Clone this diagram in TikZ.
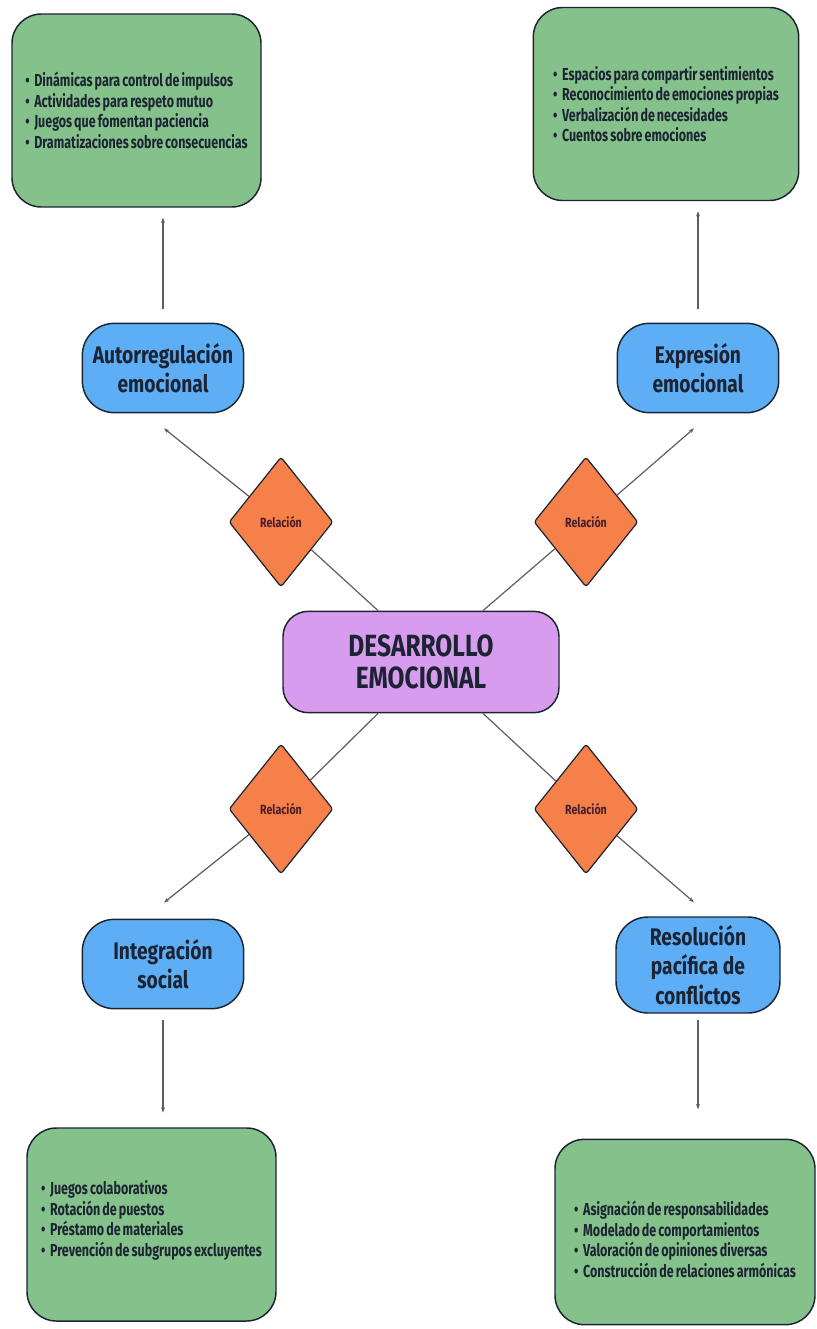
\documentclass[tikz,border=0pt]{standalone}
\usepackage{fontspec}
\setmainfont{Fira Sans}[FakeStretch=0.8]
\newfontfamily\listafont{Fira Sans}[FakeStretch=0.72, WordSpace=0.7]
\usepackage{tikz}
\usetikzlibrary{positioning,calc,arrows.meta,shapes.geometric}

\definecolor{verde}{HTML}{85C18B}
\definecolor{azul}{HTML}{5DAEF4}
\definecolor{lila}{HTML}{D89CEF}
\definecolor{naranja}{HTML}{F5804A}
\definecolor{borde}{HTML}{1C2433}
\definecolor{gris}{HTML}{5E5E5E}

\newcommand\punto{\textbullet\hspace{3.5pt}}

\begin{document}
\begin{tikzpicture}[x=0.75pt,y=-0.75pt,
		lista/.style={draw=borde, line width=1.1pt, fill=verde, rounded corners=22pt, minimum height=144.75pt, align=left, text=borde, font=\listafont\bfseries\fontsize{13}{15.4}\selectfont},
		eje/.style={draw=borde, line width=1.1pt, fill=azul, rounded corners=24pt, minimum width=121pt, minimum height=67pt, align=center, text=borde, font=\bfseries\fontsize{18}{22}\selectfont},
		rel/.style={diamond, draw=borde, line width=0.9pt, fill=naranja, rounded corners=2pt, minimum width=78pt, minimum height=97.5pt, inner sep=0pt, text=borde!80!red, font=\bfseries\fontsize{10}{11}\selectfont},
		linea/.style={draw=gris, line width=0.9pt},
		flecha/.style={linea, -{Stealth[length=4pt, width=3pt]}}]
		\useasboundingbox (0,0) rectangle (817,1329);
		% centro
		\node[draw=borde, line width=1.1pt, fill=lila, rounded corners=19pt, minimum width=207pt, minimum height=76pt, align=center, text=borde, font=\bfseries\fontsize{23}{24}\selectfont] (centro) at (421,662) {DESARROLLO\\EMOCIONAL};
		% ejes
		\node[eje] (auto) at (163,368) {Autorregulación\\emocional};
		\node[eje] (expr) at (698,368) {Expresión\\emocional};
		\node[eje] (integ) at (163,964) {Integración\\social};
		\node[eje, minimum width=123pt, minimum height=72pt] (resol) at (698,965) {Resolución\\pacífica de\\conflictos};
		% relaciones
		\node[rel] (rel1) at (281,522) {Relación};
		\node[rel] (rel2) at (586,522) {Relación};
		\node[rel] (rel3) at (281,809) {Relación};
		\node[rel] (rel4) at (586,809) {Relación};
		% actividades
		\node[lista, minimum width=186.75pt] (g1) at (136.5,110.5) {\punto Dinámicas para control de impulsos\\\punto Actividades para respeto mutuo\\\punto Juegos que fomentan paciencia\\\punto Dramatizaciones sobre consecuencias};
		\node[lista, minimum width=199pt] (g2) at (666,104) {\punto Espacios para compartir sentimientos\\\punto Reconocimiento de emociones propias\\\punto Verbalización de necesidades\\\punto Cuentos sobre emociones};
		\node[lista, minimum width=186.75pt, text depth=9pt] (g3) at (151.5,1224.5) {\punto Juegos colaborativos\\\punto Rotación de puestos\\\punto Préstamo de materiales\\\punto Prevención de subgrupos excluyentes};
		\node[lista, minimum width=195pt, minimum height=139pt, text height=68pt] (g4) at (685,1232) {\punto Asignación de responsabilidades\\\punto Modelado de comportamientos\\\punto Valoración de opiniones diversas\\\punto Construcción de relaciones armónicas};
		% conexiones
		\coordinate (s1) at ([xshift=-32.25pt]centro.north);
		\coordinate (s2) at ([xshift=46.5pt]centro.north);
		\coordinate (s3) at ([xshift=-32.25pt]centro.south);
		\coordinate (s4) at ([xshift=46.5pt]centro.south);
		\coordinate (t1) at ($(auto.south)+(1,15)$);
		\coordinate (t2) at ($(expr.south)+(-4,15)$);
		\coordinate (t3) at ($(integ.north)+(1,-16)$);
		\coordinate (t4) at ($(resol.north)+(-4,-14)$);
		\draw[linea] (s1) -- (rel1);
		\draw[flecha] (rel1) -- (t1);
		\draw[linea] (s2) -- (rel2);
		\draw[flecha] (rel2) -- (t2);
		\draw[linea] (s3) -- (rel3);
		\draw[flecha] (rel3) -- (t3);
		\draw[linea] (s4) -- (rel4);
		\draw[flecha] (rel4) -- (t4);
		\draw[flecha, shorten <=10.5pt, shorten >=7.5pt] (auto.north) -- (auto.north |- g1.south);
		\draw[flecha, shorten <=10.5pt, shorten >=7.5pt] (expr.north) -- (expr.north |- g2.south);
		\draw[flecha, shorten <=8pt, shorten >=11pt] (integ.south) -- (integ.south |- g3.north);
		\draw[flecha, shorten <=4.5pt, shorten >=22pt] (resol.south) -- (resol.south |- g4.north);
	\end{tikzpicture}
\end{document}
